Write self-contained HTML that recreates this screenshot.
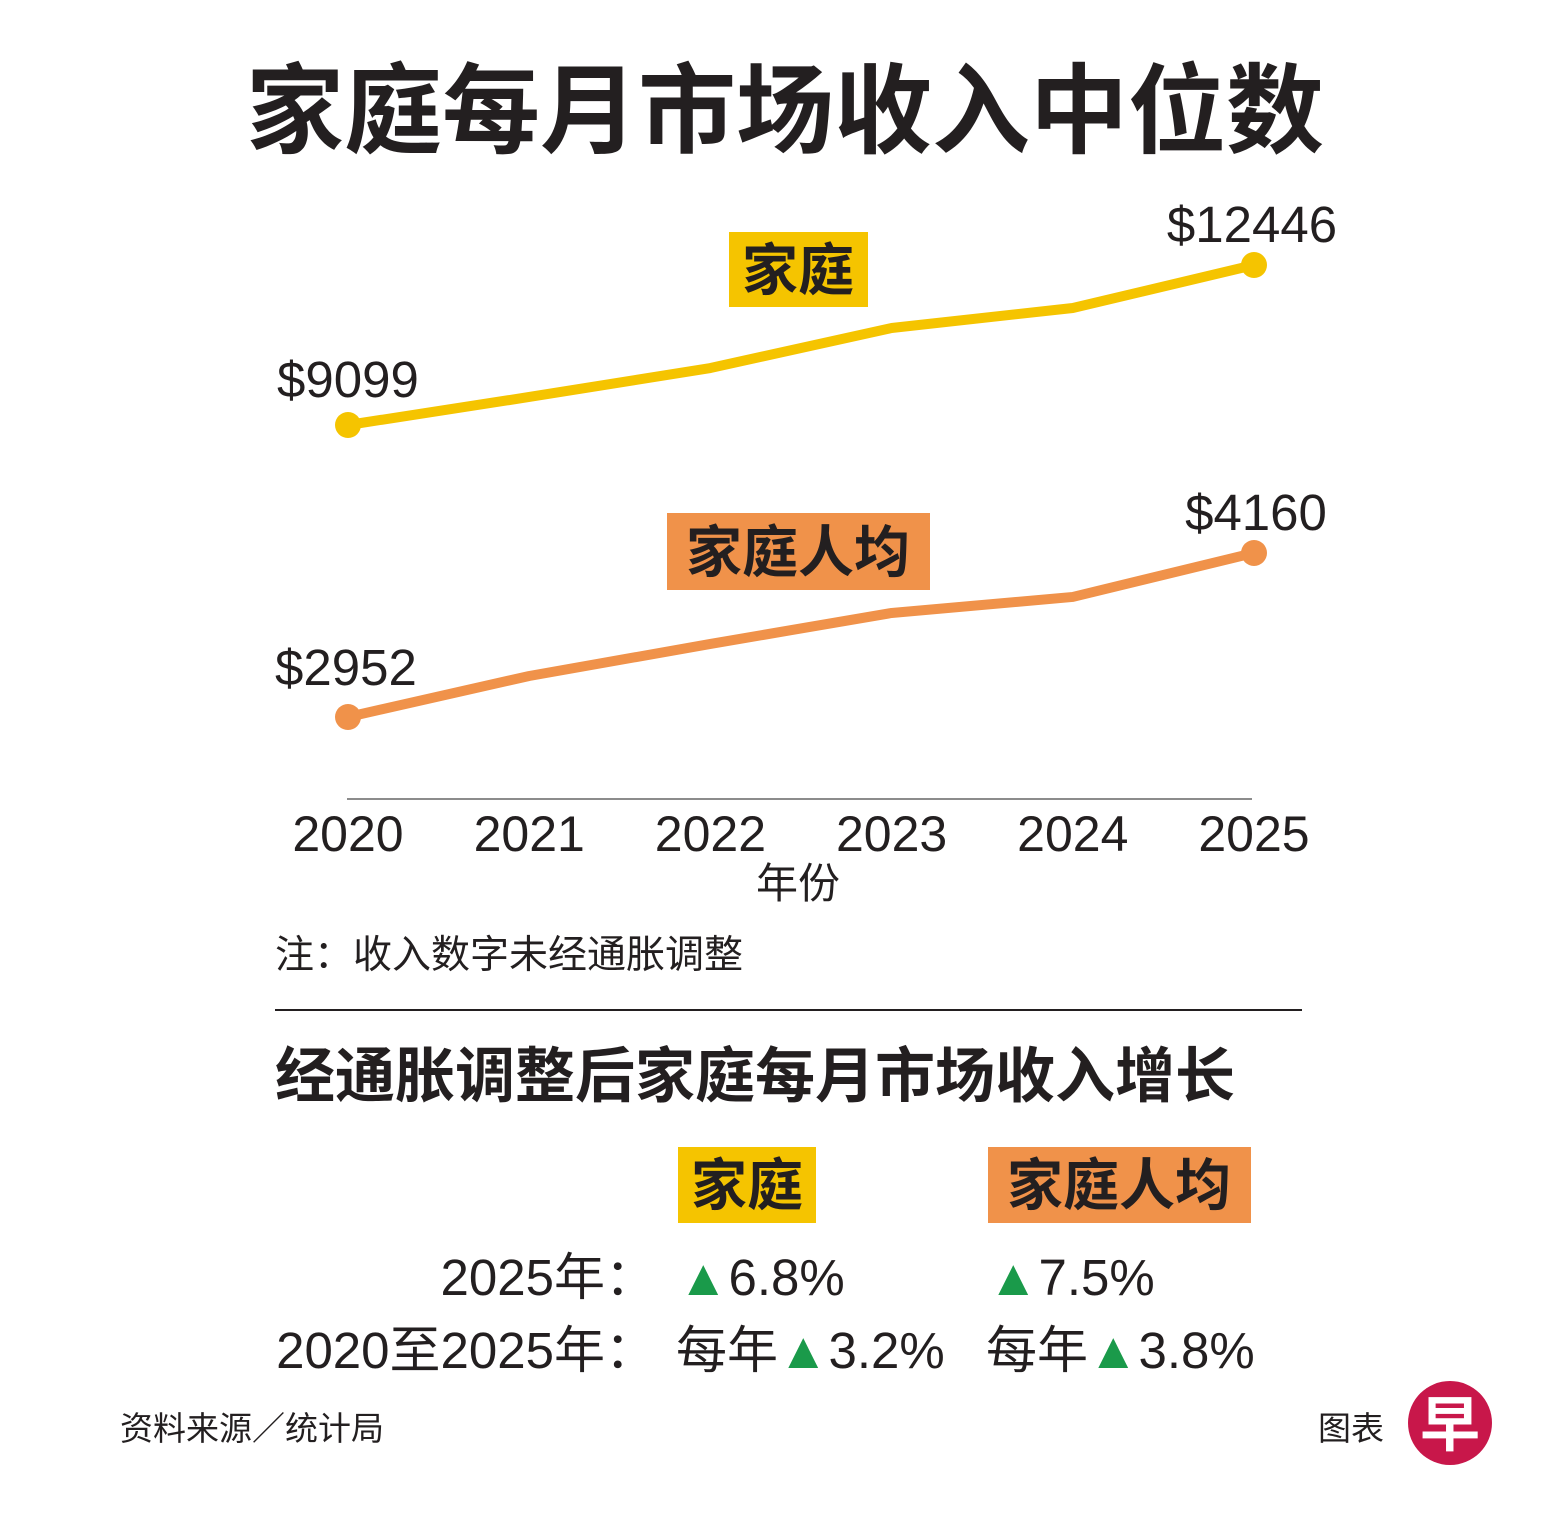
<!DOCTYPE html>
<html><head><meta charset="utf-8"><style>
body{margin:0;background:#fff;}
svg text{font-family:"Liberation Sans","Noto Sans CJK SC",sans-serif;fill:#231f20;}
.b{font-weight:bold;}
</style></head><body>
<svg width="1565" height="1532" viewBox="0 0 1565 1532">
<text x="785" y="145" text-anchor="middle" font-size="98" class="b">家庭每月市场收入中位数</text>
<g id="chart"></g>
<text x="798" y="898" text-anchor="middle" font-size="42">年份</text>
<text x="275" y="968" font-size="39">注：收入数字未经通胀调整</text>
<line x1="275" y1="1010" x2="1302" y2="1010" stroke="#231f20" stroke-width="2"/>
<text x="275" y="1097" font-size="60" class="b">经通胀调整后家庭每月市场收入增长</text>
<rect x="678" y="1147" width="138" height="76" fill="#F5C400"/>
<text x="747" y="1205" text-anchor="middle" font-size="56" class="b">家庭</text>
<rect x="988" y="1147" width="263" height="76" fill="#F0924A"/>
<text x="1119" y="1205" text-anchor="middle" font-size="56" class="b">家庭人均</text>
<text x="656" y="1295" text-anchor="end" font-size="51">2025年：</text>
<text x="678" y="1295" font-size="51"><tspan fill="#1a9a4a">▲</tspan>6.8%</text>
<text x="988" y="1295" font-size="51"><tspan fill="#1a9a4a">▲</tspan>7.5%</text>
<text x="656" y="1368" text-anchor="end" font-size="51">2020至2025年：</text>
<text x="676" y="1368" font-size="51">每年<tspan fill="#1a9a4a">▲</tspan>3.2%</text>
<text x="986" y="1368" font-size="51">每年<tspan fill="#1a9a4a">▲</tspan>3.8%</text>
<text x="120" y="1440" font-size="33">资料来源／统计局</text>
<text x="1318" y="1440" font-size="33">图表</text>
<circle cx="1450" cy="1423" r="42" fill="#c8174a"/>
<text x="1450" y="1446" text-anchor="middle" font-size="60" class="b" style="fill:#fff">早</text>
</svg>
<script>
const years=["2020","2021","2022","2023","2024","2025"];
const household=[9099,9685,10291,11128,11547,12446];
const perCapita=[2952,3254,3490,3718,3836,4160];
const NS="http://www.w3.org/2000/svg";
const g=document.getElementById('chart');
function x(i){return 348+i*(1254-348)/(years.length-1);}
function yH(v){return 425-(v-9099)*0.0478;}
function yP(v){return 717-(v-2952)*0.1358;}
function mk(t,a){const e=document.createElementNS(NS,t);for(const k in a)e.setAttribute(k,a[k]);g.appendChild(e);return e;}
const ax=mk('line',{x1:347,y1:799,x2:1252,y2:799,stroke:'#666','stroke-width':1.5});


years.forEach((yr,i)=>{const t=mk('text',{x:x(i),y:851,'text-anchor':'middle','font-size':50});t.textContent=yr;

});
function series(vals,fy,col,name){
 const p=mk('polyline',{points:vals.map((v,i)=>x(i)+','+fy(v)).join(' '),fill:'none',stroke:col,'stroke-width':10,'stroke-linejoin':'round'});
 
 
 [0,vals.length-1].forEach(i=>{const c=mk('circle',{cx:x(i),cy:fy(vals[i]),r:13,fill:col});
 
 });
}
series(household,yH,'#F5C400','household');
series(perCapita,yP,'#F0924A','per-capita');
function lab(txt,xx,yy,anc,name){const t=mk('text',{x:xx,y:yy,'text-anchor':anc,'font-size':51});t.textContent=txt;

}
const n=years.length-1;
lab('$'+household[0],277,yH(household[0])-28,'start','household-start-label');
lab('$'+household[n],1252,yH(household[n])-23,'middle','household-end-label');
lab('$'+perCapita[0],275,yP(perCapita[0])-32,'start','per-capita-start-label');
lab('$'+perCapita[n],1256,yP(perCapita[n])-23,'middle','per-capita-end-label');
const b1=mk('rect',{x:729,y:232,width:139,height:75,fill:'#F5C400'});


const t1=mk('text',{x:798,y:290,'text-anchor':'middle','font-size':56,'font-weight':'bold'});t1.textContent='家庭';


const b2=mk('rect',{x:667,y:513,width:263,height:77,fill:'#F0924A'});


const t2=mk('text',{x:798,y:572,'text-anchor':'middle','font-size':56,'font-weight':'bold'});t2.textContent='家庭人均';


</script>
</body></html>
